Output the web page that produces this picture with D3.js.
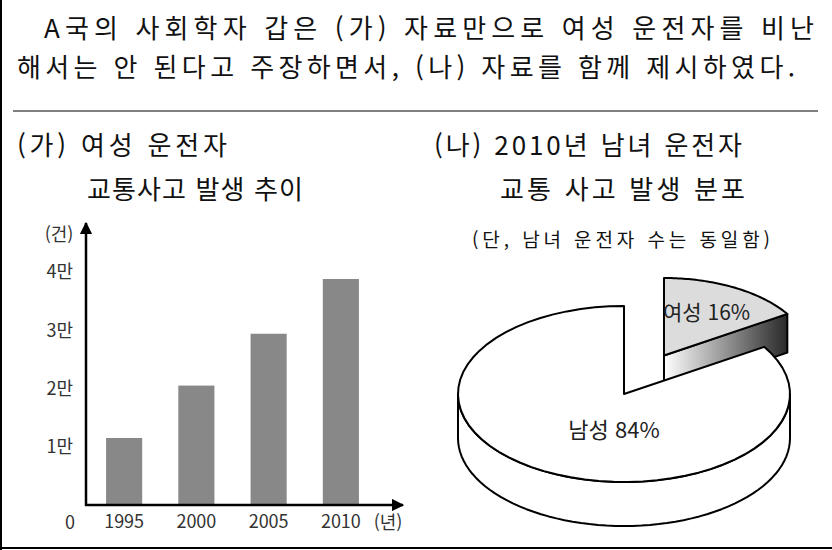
<!DOCTYPE html>
<html lang="ko">
<head>
    <meta charset="UTF-8">
    <title>여성 운전자 교통사고</title>
    <script src="https://cdn.jsdelivr.net/npm/d3@7"></script>
</head>
<style>
    body { margin: 0; background: #fff; }
    svg { display: block; font-family: "Noto Sans CJK KR", "Noto Sans", sans-serif; }
</style>
<body>
    <div id="graphDiv"></div>

    <script>
        // data
        var years = ['1995', '2000', '2005', '2010']
        var accidents = [11500, 20500, 29400, 38800]
        var yTicks = [10000, 20000, 30000, 40000]
        var pieLabels = ['여성', '남성']
        var pieShares = [16, 84]

        var headLines = [
            'A국의 사회학자 갑은 (가) 자료만으로 여성 운전자를 비난',
            '해서는 안 된다고 주장하면서, (나) 자료를 함께 제시하였다.'
        ]

        var width = 832
        var height = 550

        var svg = d3.select('#graphDiv')
                    .append('svg')
                    .attr('width', width)
                    .attr('height', height)

        // frame
        svg.append('line').attr('x1', 1).attr('x2', 1).attr('y1', 0).attr('y2', height)
            .attr('stroke', '#000').attr('stroke-width', 2)
        svg.append('line').attr('x1', 0).attr('x2', width).attr('y1', 548).attr('y2', 548)
            .attr('stroke', '#000').attr('stroke-width', 2)

        // question text
        var txt = function (s, x, y, len, size, anchor) {
            var t = svg.append('text')
                .attr('x', x).attr('y', y).attr('dy', '0.36em')
                .attr('font-size', size)
                .attr('fill', '#111')
                .attr('text-anchor', anchor || 'start')
                .text(s)
            if (len) t.attr('textLength', len).attr('lengthAdjust', 'spacing')
            return t
        }
        txt(headLines[0], 44, 29, 770, 26)
        txt(headLines[1], 17, 68, 778, 26)

        svg.append('line').attr('x1', 13).attr('x2', 818).attr('y1', 111).attr('y2', 111)
            .attr('stroke', '#808080').attr('stroke-width', 2)

        txt('(가) 여성 운전자', 17, 146, 210, 26)
        txt('교통사고 발생 추이', 87, 190, 216, 26)
        txt('(나) 2010년 남녀 운전자', 434, 146, 308, 26)
        txt('교통 사고 발생 분포', 500, 190, 245, 26)

        // ---- bar chart (가) ----
        var defs = svg.append('defs')
        defs.append('marker')
            .attr('id', 'arrow')
            .attr('viewBox', '0 0 10 10')
            .attr('refX', 9).attr('refY', 5)
            .attr('markerWidth', 5).attr('markerHeight', 5)
            .attr('markerUnits', 'strokeWidth')
            .attr('orient', 'auto')
            .append('path').attr('d', 'M0,0 L10,5 L0,10 Z').attr('fill', '#000')

        var xScale = d3.scaleBand()
                        .domain(years)
                        .range([88, 377])
                        .paddingInner(0.5)
                        .paddingOuter(0.25)
        var yScale = d3.scaleLinear()
                        .domain([0, 40000])
                        .range([505, 272])

        var barG = svg.append('g')
        barG.selectAll('rect')
            .data(accidents)
            .join('rect')
            .attr('x', (d, i) => xScale(years[i]))
            .attr('y', d => yScale(d))
            .attr('width', xScale.bandwidth())
            .attr('height', d => yScale(0) - yScale(d))
            .attr('fill', '#888')

        // axes lines with arrows
        svg.append('line')
            .attr('x1', 86).attr('x2', 86)
            .attr('y1', yScale(0) + 1).attr('y2', yScale(48400))
            .attr('stroke', '#000').attr('stroke-width', 2.5)
            .attr('marker-end', 'url(#arrow)')
        svg.append('line')
            .attr('x1', 85).attr('x2', 403)
            .attr('y1', yScale(0)).attr('y2', yScale(0))
            .attr('stroke', '#000').attr('stroke-width', 2.5)
            .attr('marker-end', 'url(#arrow)')

        var yAxis = d3.axisLeft(yScale)
                        .tickValues(yTicks)
                        .tickFormat(d => (d / 10000) + '만')
                        .tickSize(0)
                        .tickPadding(13)
        var yG = svg.append('g').attr('transform', 'translate(86,0)').call(yAxis)
        yG.select('.domain').remove()

        var xAxis = d3.axisBottom(xScale).tickSize(0).tickPadding(10)
        var xG = svg.append('g').attr('transform', 'translate(0,' + yScale(0) + ')').call(xAxis)
        xG.select('.domain').remove()

        svg.selectAll('.tick text')
            .attr('font-size', 18)
            .attr('font-family', '"Noto Sans CJK KR", sans-serif')
            .attr('fill', '#333')

        var small = function (s, x, y) {
            svg.append('text').attr('x', x).attr('y', y).attr('dy', '0.36em')
                .attr('text-anchor', 'middle').attr('font-size', 18).attr('fill', '#333')
                .text(s)
        }
        small('(건)', 59, 235)
        small('0', 70, 523)
        small('(년)', 388, 523)

        // ---- pie chart (나) ----
        txt('(단, 남녀 운전자 수는 동일함)', 472, 240, 298, 19)

        var pie = d3.pie().sort(null)
        var arcs = pie(pieShares)

        var cx = 624, cy = 394, rx = 166, ry = 88, depth = 44
        var explode = 0.5, fScale = 0.88

        var ePt = (c, a, sx, sy) => [c[0] + sx * Math.sin(a), c[1] - sy * Math.cos(a)]
        var rim = (c, a0, a1, sx, sy) => d3.range(0, 61).map(i => ePt(c, a0 + (a1 - a0) * i / 60, sx, sy))
        var line = d3.line()

        var grad = defs.append('linearGradient').attr('id', 'sideGrad')
            .attr('x1', '0%').attr('x2', '100%').attr('y1', '0%').attr('y2', '0%')
        grad.append('stop').attr('offset', '0%').attr('stop-color', '#ffffff')
        grad.append('stop').attr('offset', '92%').attr('stop-color', '#3a3a3a')
        grad.append('stop').attr('offset', '100%').attr('stop-color', '#2a2a2a')

        var pieG = svg.append('g')

        // female slice (exploded, drawn first so the male top covers it)
        var f = arcs[0]
        var mid = (f.startAngle + f.endAngle) / 2
        var fc = [cx + rx * explode * Math.sin(mid), cy - ry * explode * Math.cos(mid)]
        var frx = rx * fScale, fry = ry * fScale, fd = depth * fScale
        var tip = ePt(fc, f.endAngle, frx, fry)
        pieG.append('path')
            .attr('d', line([fc, tip, [tip[0], tip[1] + fd], [fc[0], fc[1] + fd]]) + 'Z')
            .attr('fill', 'url(#sideGrad)')
            .attr('stroke', '#000').attr('stroke-width', 2).attr('stroke-linejoin', 'round')
        pieG.append('path')
            .attr('d', line([fc].concat(rim(fc, f.startAngle, f.endAngle, frx, fry))) + 'Z')
            .attr('fill', '#dcdcdc')
            .attr('stroke', '#000').attr('stroke-width', 2).attr('stroke-linejoin', 'round')

        // male slice
        var m = arcs[1]
        var s0 = Math.max(m.startAngle, Math.PI / 2), s1 = Math.min(m.endAngle, Math.PI * 1.5)
        var topRim = rim([cx, cy], s0, s1, rx, ry)
        var botRim = rim([cx, cy + depth], s1, s0, rx, ry)
        pieG.append('path')
            .attr('d', line(topRim.concat(botRim)) + 'Z')
            .attr('fill', '#fff')
            .attr('stroke', '#000').attr('stroke-width', 2).attr('stroke-linejoin', 'round')
        pieG.append('path')
            .attr('d', line([[cx, cy]].concat(rim([cx, cy], m.startAngle, m.endAngle, rx, ry))) + 'Z')
            .attr('fill', '#fff')
            .attr('stroke', '#000').attr('stroke-width', 2).attr('stroke-linejoin', 'round')

        pieG.append('text')
            .attr('x', 614).attr('y', 430).attr('dy', '0.36em')
            .attr('text-anchor', 'middle').attr('font-size', 22).attr('fill', '#222')
            .text(pieLabels[1] + ' ' + pieShares[1] + '%')
        pieG.append('text')
            .attr('x', 663).attr('y', 312).attr('dy', '0.36em')
            .attr('font-size', 21).attr('fill', '#222')
            .text(pieLabels[0] + ' ' + pieShares[0] + '%')
    </script>
</body>
</html>
